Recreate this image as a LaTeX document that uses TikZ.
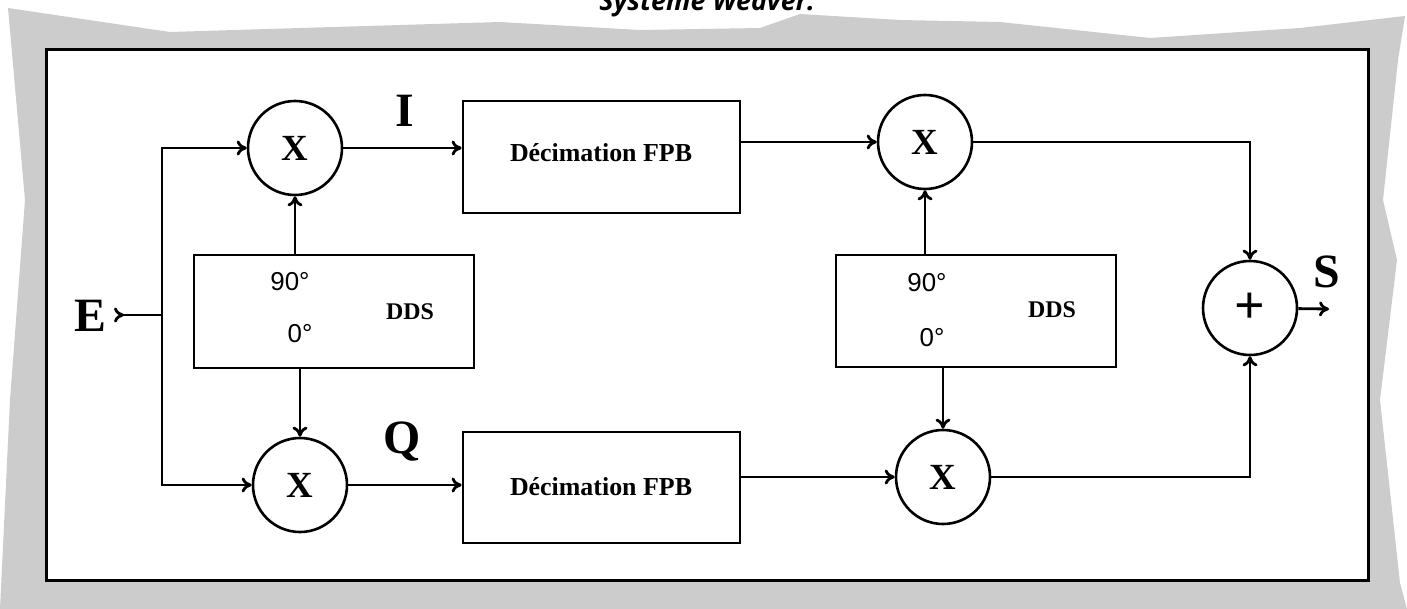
\documentclass[tikz,border=0pt]{standalone}
\usepackage{fontspec}
\setmainfont{Liberation Serif}
\newfontfamily\titlefont{Open Sans}
\newfontfamily\degfont{Liberation Sans}
\usetikzlibrary{arrows.meta,positioning}

\begin{document}
\begin{tikzpicture}[
    x=1bp, y=-1bp,
    >={To[length=10bp,width=15bp]},
    box/.style={rectangle, draw, line width=2.8bp, inner sep=0pt},
    mixer/.style={circle, draw, fill=white, line width=2.6bp, minimum size=94bp, inner sep=0pt, font=\bfseries\fontsize{37}{37}\selectfont},
    arrow/.style={->, line width=2.8bp},
    tag/.style={font=\bfseries\fontsize{48}{48}\selectfont, inner sep=0pt},
    boxtext/.style={font=\bfseries\fontsize{26}{26}\selectfont, inner sep=0pt},
    phase/.style={font=\degfont\fontsize{26}{26}\selectfont, inner sep=0pt}
]
    \useasboundingbox (0,0) rectangle (1407,609);

    % torn paper background
    \fill[gray!40] (8,8) -- (170,32) -- (300,28) -- (500,22) -- (640,30) -- (760,28)
        -- (800,14) -- (900,20) -- (1000,22) -- (1150,38) -- (1300,28) -- (1405,16)
        -- (1398,60) -- (1383,200) -- (1397,260) -- (1380,400) -- (1400,583) -- (1407,609)
        -- (0,609) -- (10,400) -- (25,200) -- cycle;
    \filldraw[fill=white, line width=3bp] (46,50) rectangle (1368,580);

    % title, cut by the page edge
    \node[font=\titlefont\bfseries\itshape\fontsize{27}{27}\selectfont, anchor=base] (title) at (707,11) {Système Weaver.};

    % blocks
    \node[mixer] (mx1) at (295,148) {X};
    \node[mixer] (mx2) at (300,485) {X};
    \node[mixer] (mx3) at (925,142) {X};
    \node[mixer] (mx4) at (943,477) {X};
    \node[mixer, font=\bfseries\fontsize{54}{54}\selectfont] (sum) at (1250,308) {+};

    \node[box, minimum width=280bp, minimum height=113bp] (dds1) at (334,311.5) {};
    \node[box, minimum width=280bp, minimum height=112bp] (dds2) at (976,311) {};
    \node[box, minimum width=277bp, minimum height=112bp] (dec1) at (601.5,157) {};
    \node[box, minimum width=277bp, minimum height=111bp] (dec2) at (601.5,487.5) {};

    \node[boxtext] (dec1txt) at (601,153) {Décimation FPB};
    \node[boxtext] (dec2txt) at (601,487) {Décimation FPB};
    \node[phase] (ph90a) at (290,282) {90°};
    \node[phase] (ph0a) at (300,334) {0°};
    \node[boxtext, font=\bfseries\fontsize{24}{24}\selectfont] (ddsa) at (410,312) {DDS};
    \node[phase] (ph90b) at (927,283) {90°};
    \node[phase] (ph0b) at (932,338) {0°};
    \node[boxtext, font=\bfseries\fontsize{24}{24}\selectfont] (ddsb) at (1052,310) {DDS};

    % signal labels
    \node[tag] (lblE) at (90,316) {E};
    \node[tag] (lblI) at (405,111) {I};
    \node[tag] (lblQ) at (402,442) {Q};
    \node[tag] (lblS) at (1327,272) {S};

    \coordinate (ein) at (114,315);
    \coordinate (split) at (162,315);
    \coordinate (sout) at (1329,309);

    % connectors
    \draw[{To[reversed,length=10bp,width=15bp]}-, line width=2.8bp] (ein) -- (split);
    \draw[arrow] (split) |- (mx1);
    \draw[arrow] (split) |- (mx2);
    \draw[arrow] (dds1.north -| mx1) -- (mx1);
    \draw[arrow] (dds1.south -| mx2) -- (mx2);
    \draw[arrow] (mx1.east) -- (mx1.east -| dec1.west);
    \draw[arrow] (mx2.east) -- (mx2.east -| dec2.west);
    \draw[arrow] (dec1.east |- mx3) -- (mx3);
    \draw[arrow] (dec2.east |- mx4) -- (mx4);
    \draw[arrow] (dds2.north -| mx3) -- (mx3);
    \draw[arrow] (dds2.south -| mx4) -- (mx4);
    \draw[arrow] (mx3) -| (sum);
    \draw[arrow] (mx4) -| (sum);
    \draw[arrow] (sum) -- (sout);
\end{tikzpicture}
\end{document}
